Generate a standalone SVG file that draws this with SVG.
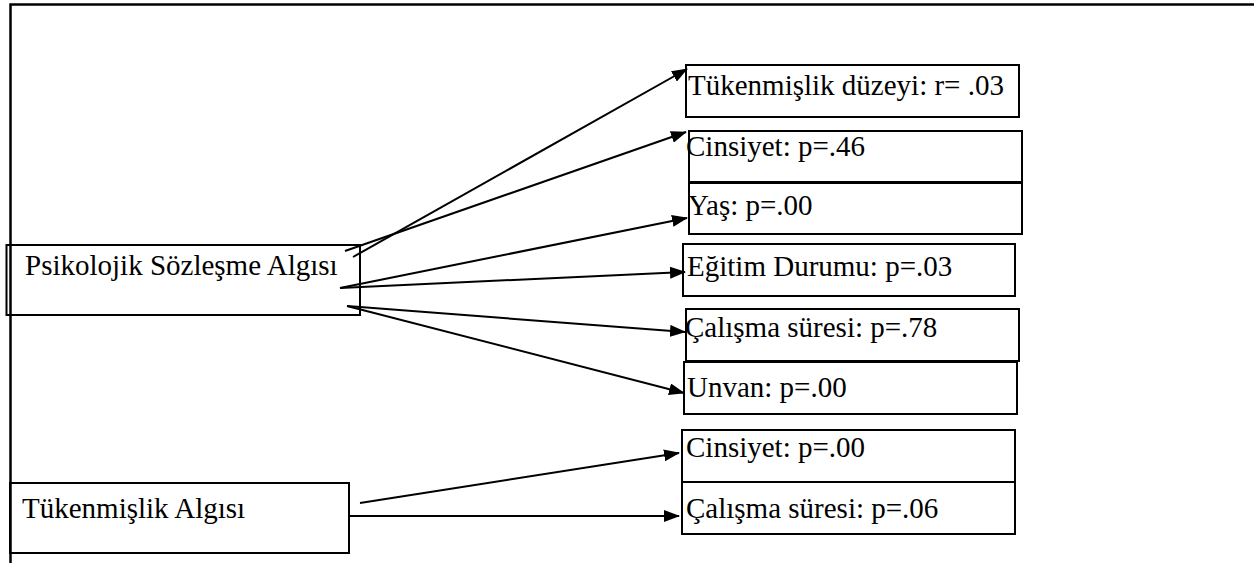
<svg xmlns="http://www.w3.org/2000/svg" width="1254" height="563" viewBox="0 0 1254 563">
<style>
.box{fill:none;stroke:#000;stroke-width:2}
text{font-family:'Liberation Serif','Times New Roman','DejaVu Serif',serif;font-size:29px;fill:#000}
.c{stroke:#000;stroke-width:2;fill:none;marker-end:url(#ah)}
.frame{stroke:#000;stroke-width:2.5;fill:none}
</style>
<defs>
<marker id="ah" viewBox="0 0 16 12" refX="15" refY="6" markerWidth="16" markerHeight="12" markerUnits="userSpaceOnUse" orient="auto">
<path d="M0,0 L16,6 L0,12 z" fill="#000"/>
</marker>
</defs>
<rect width="1254" height="563" fill="#fff"/>
<path class="frame" d="M10.5,563 V4.5 H1254"/>
<g font-family="Liberation Serif, serif" font-size="29">
<g id="n-psikolojik">
<rect class="box" x="6.5" y="245" width="353.5" height="70"/>
<text x="25" y="275">Psikolojik Sözleşme Algısı</text>
</g>
<g id="n-tukenmislik-algisi">
<rect class="box" x="10" y="483" width="339" height="70"/>
<text x="22" y="518">Tükenmişlik Algısı</text>
</g>
<g id="n-tukenmislik-duzeyi">
<rect class="box" x="686" y="65" width="333" height="52"/>
<text x="688" y="95">Tükenmişlik düzeyi: r= .03</text>
</g>
<g id="n-cinsiyet1">
<rect class="box" x="689" y="131" width="333" height="51"/>
<text x="686" y="156">Cinsiyet: p=.46</text>
</g>
<g id="n-yas">
<rect class="box" x="689" y="183" width="333" height="51"/>
<text x="688" y="215">Yaş: p=.00</text>
</g>
<g id="n-egitim">
<rect class="box" x="683" y="244" width="332" height="52"/>
<text x="687" y="276">Eğitim Durumu: p=.03</text>
</g>
<g id="n-calisma1">
<rect class="box" x="686" y="309" width="333" height="52"/>
<text x="685" y="337">Çalışma süresi: p=.78</text>
</g>
<g id="n-unvan">
<rect class="box" x="684" y="362" width="333" height="52"/>
<text x="687" y="397">Unvan: p=.00</text>
</g>
<g id="n-cinsiyet2">
<rect class="box" x="682" y="430" width="333" height="52"/>
<text x="686" y="457">Cinsiyet: p=.00</text>
</g>
<g id="n-calisma2">
<rect class="box" x="682" y="482" width="333" height="52"/>
<text x="686" y="518">Çalışma süresi: p=.06</text>
</g>
</g>
<g id="connectors">
<line class="c" x1="353" y1="257" x2="687" y2="69"/>
<line class="c" x1="345" y1="251" x2="686" y2="132"/>
<line class="c" x1="340" y1="288" x2="687" y2="218"/>
<line class="c" x1="340" y1="288" x2="685" y2="272"/>
<line class="c" x1="347" y1="306" x2="685" y2="332"/>
<line class="c" x1="347" y1="306" x2="684" y2="393"/>
<line class="c" x1="360" y1="503" x2="679" y2="453"/>
<line class="c" x1="349" y1="516" x2="679" y2="516"/>
</g>
</svg>
